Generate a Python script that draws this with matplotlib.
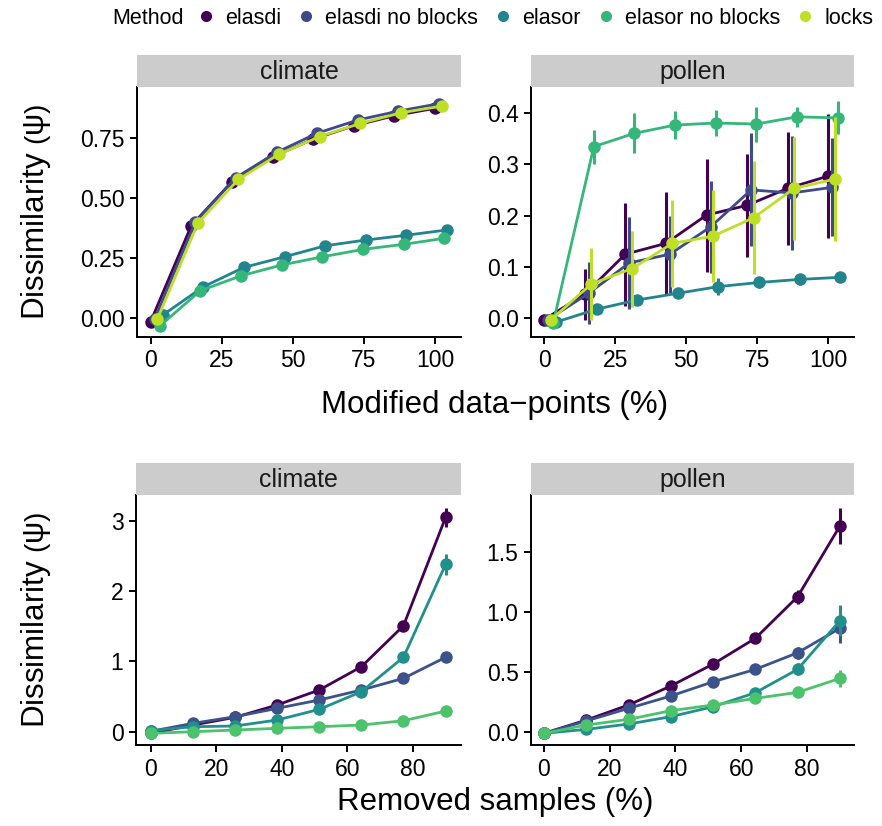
import numpy as np
import matplotlib
matplotlib.use("Agg")
import matplotlib.pyplot as plt
from matplotlib.lines import Line2D

plt.rcParams['font.family'] = ['Liberation Sans', 'DejaVu Sans']
plt.rcParams['mathtext.fontset'] = 'custom'
plt.rcParams['mathtext.rm'] = 'Liberation Sans'
plt.rcParams['mathtext.it'] = 'Liberation Sans:italic'

methods = ["elasdi", "elasdi no blocks", "elasor", "elasor no blocks", "locks"]
colors_top = {"elasdi": "#440154", "elasdi no blocks": "#3E4A89", "elasor": "#22858E",
              "elasor no blocks": "#35B779", "locks": "#BDDF26"}
colors_bot = {"elasdi": "#440154", "elasdi no blocks": "#3B528B", "elasor": "#21908C",
              "elasor no blocks": "#4CC26C"}
dodge = {"elasdi": 0.0, "elasdi no blocks": 1.4, "locks": 2.3, "elasor no blocks": 3.2, "elasor": 4.2}

# ---- top row: modified data-points ----
x_mod = [0, 14.29, 28.57, 42.86, 57.14, 71.43, 85.71, 100]

mod_climate = {
    "elasdi":           [-0.015, 0.385, 0.568, 0.672, 0.745, 0.801, 0.843, 0.874],
    "elasdi no blocks": [-0.005, 0.400, 0.585, 0.690, 0.770, 0.825, 0.862, 0.893],
    "elasor":           [0.012, 0.130, 0.211, 0.255, 0.301, 0.325, 0.345, 0.367],
    "elasor no blocks": [-0.033, 0.114, 0.176, 0.221, 0.255, 0.286, 0.307, 0.332],
    "locks":            [-0.006, 0.395, 0.578, 0.683, 0.756, 0.811, 0.855, 0.883],
}
mod_climate_err = {
    "elasdi":           [0.005, 0.01, 0.01, 0.01, 0.01, 0.01, 0.01, 0.01],
    "elasdi no blocks": [0.005, 0.015, 0.015, 0.012, 0.012, 0.012, 0.01, 0.01],
    "elasor":           [0.004, 0.005, 0.005, 0.005, 0.005, 0.005, 0.005, 0.005],
    "elasor no blocks": [0.004, 0.005, 0.005, 0.005, 0.005, 0.005, 0.005, 0.005],
    "locks":            [0.005, 0.01, 0.01, 0.01, 0.01, 0.01, 0.01, 0.01],
}
mod_pollen = {
    "elasdi":           [-0.002, 0.047, 0.125, 0.146, 0.201, 0.220, 0.253, 0.277],
    "elasdi no blocks": [-0.002, 0.049, 0.108, 0.125, 0.178, 0.250, 0.244, 0.255],
    "elasor":           [-0.007, 0.018, 0.036, 0.049, 0.062, 0.070, 0.076, 0.080],
    "elasor no blocks": [-0.009, 0.334, 0.360, 0.376, 0.380, 0.378, 0.392, 0.390],
    "locks":            [-0.003, 0.067, 0.097, 0.146, 0.160, 0.196, 0.253, 0.271],
}
mod_pollen_err = {
    "elasdi":           [0.005, 0.050, 0.100, 0.100, 0.110, 0.100, 0.110, 0.120],
    "elasdi no blocks": [0.005, 0.060, 0.090, 0.075, 0.090, 0.110, 0.110, 0.095],
    "elasor":           [0.004, 0.006, 0.008, 0.008, 0.016, 0.010, 0.010, 0.010],
    "elasor no blocks": [0.005, 0.033, 0.039, 0.028, 0.026, 0.034, 0.020, 0.032],
    "locks":            [0.005, 0.070, 0.074, 0.085, 0.090, 0.110, 0.100, 0.120],
}

# ---- bottom row: removed samples ----
x_rem = [0, 12.86, 25.71, 38.57, 51.43, 64.29, 77.14, 90]
rem_methods = ["elasdi", "elasdi no blocks", "elasor", "elasor no blocks"]
rem_climate = {
    "elasdi":           [-0.023, 0.095, 0.204, 0.380, 0.593, 0.924, 1.507, 3.048],
    "elasdi no blocks": [0.005, 0.119, 0.213, 0.332, 0.451, 0.593, 0.759, 1.058],
    "elasor":           [0.014, 0.071, 0.081, 0.166, 0.318, 0.569, 1.058, 2.380],
    "elasor no blocks": [-0.023, 0.000, 0.024, 0.048, 0.071, 0.095, 0.156, 0.294],
}
rem_climate_err = {
    "elasdi":           [0.01, 0.02, 0.02, 0.03, 0.03, 0.03, 0.04, 0.14],
    "elasdi no blocks": [0.01, 0.01, 0.02, 0.02, 0.02, 0.03, 0.03, 0.06],
    "elasor":           [0.01, 0.01, 0.01, 0.02, 0.02, 0.03, 0.05, 0.15],
    "elasor no blocks": [0.01, 0.01, 0.01, 0.01, 0.01, 0.01, 0.02, 0.03],
}
rem_pollen = {
    "elasdi":           [-0.008, 0.102, 0.227, 0.385, 0.567, 0.781, 1.126, 1.713],
    "elasdi no blocks": [-0.008, 0.095, 0.199, 0.302, 0.420, 0.523, 0.661, 0.864],
    "elasor":           [-0.008, 0.025, 0.069, 0.130, 0.213, 0.329, 0.523, 0.927],
    "elasor no blocks": [-0.008, 0.061, 0.108, 0.180, 0.227, 0.282, 0.332, 0.448],
}
rem_pollen_err = {
    "elasdi":           [0.01, 0.02, 0.02, 0.02, 0.02, 0.03, 0.06, 0.15],
    "elasdi no blocks": [0.01, 0.02, 0.02, 0.02, 0.02, 0.03, 0.05, 0.12],
    "elasor":           [0.01, 0.01, 0.02, 0.02, 0.02, 0.03, 0.05, 0.13],
    "elasor no blocks": [0.01, 0.01, 0.02, 0.02, 0.02, 0.03, 0.03, 0.07],
}

W, H = 882, 826
fig = plt.figure(figsize=(W / 100, H / 100), dpi=100)


def px_axes(x0, y0, x1, y1):
    return fig.add_axes([x0 / W, 1 - y1 / H, (x1 - x0) / W, (y1 - y0) / H])


def draw_panel(rect, title, mlist, xs, vals, errs, cols, use_dodge, xlim, ylim, xticks, yticks, yfmt):
    x0, y0, x1, y1 = rect
    ax = px_axes(x0, y0, x1, y1)
    strip = px_axes(x0, y0 - 32, x1, y0)
    strip.set_facecolor("#CCCCCC")
    strip.set_xticks([]); strip.set_yticks([])
    for s in strip.spines.values():
        s.set_visible(False)
    strip.text(0.5, 0.47, title, ha="center", va="center", fontsize=18, color="#1A1A1A",
               transform=strip.transAxes)
    for i, m in enumerate(mlist):
        off = dodge[m] if use_dodge else 0.0
        x = np.array(xs) + off
        y = np.array(vals[m])
        e = np.array(errs[m])
        c = cols[m]
        z = 2 + i
        ax.plot(x, y, color=c, lw=2.0, zorder=z, solid_capstyle="butt")
        ax.vlines(x, y - e, y + e, color=c, lw=2.2, zorder=z)
        ax.plot(x, y, "o", color=c, ms=9, mec="none", zorder=z + 0.5)
    ax.set_xlim(*xlim)
    ax.set_ylim(*ylim)
    ax.set_xticks(xticks)
    ax.set_yticks(yticks)
    ax.set_yticklabels([yfmt.format(v) for v in yticks])
    for s in ["top", "right"]:
        ax.spines[s].set_visible(False)
    for s in ["left", "bottom"]:
        ax.spines[s].set_linewidth(1.4)
    ax.tick_params(axis="both", direction="out", length=5, width=1.4, labelsize=16.5,
                   colors="black", pad=4)
    return ax


draw_panel((137, 87, 461, 337), "climate", methods, x_mod, mod_climate, mod_climate_err,
           colors_top, True, (-4.8, 109.1), (-0.079, 0.9625),
           [0, 25, 50, 75, 100], [0.0, 0.25, 0.5, 0.75], "{:.2f}")
draw_panel((531, 87, 854, 337), "pollen", methods, x_mod, mod_pollen, mod_pollen_err,
           colors_top, True, (-4.6, 109.0), (-0.036, 0.450),
           [0, 25, 50, 75, 100], [0.0, 0.1, 0.2, 0.3, 0.4], "{:.1f}")
draw_panel((136, 495, 461, 745), "climate", rem_methods, x_rem, rem_climate, rem_climate_err,
           colors_bot, False, (-4.5, 94.7), (-0.189, 3.366),
           [0, 20, 40, 60, 80], [0, 1, 2, 3], "{:d}")
draw_panel((531, 495, 854, 745), "pollen", rem_methods, x_rem, rem_pollen, rem_pollen_err,
           colors_bot, False, (-3.95, 94.3), (-0.105, 1.971),
           [0, 20, 40, 60, 80], [0.0, 0.5, 1.0, 1.5], "{:.1f}")

# axis titles
fig.text(495 / W, 1 - 405 / H, "Modified data\u2212points (%)", ha="center", va="center", fontsize=22.5)
fig.text(495 / W, 1 - 802 / H, "Removed samples (%)", ha="center", va="center", fontsize=22.5)
ylab = r"Dissimilarity $\left(\mathrm{\psi}\right)$"
fig.text(36 / W, 1 - 212 / H, ylab, ha="center", va="center", rotation=90, fontsize=22.5)
fig.text(36 / W, 1 - 620 / H, ylab, ha="center", va="center", rotation=90, fontsize=22.5)

# legend
fig.text(112 / W, 1 - 18 / H, "Method", ha="left", va="center", fontsize=15.5)
handles = [Line2D([], [], marker="o", ls="none", color=colors_top[m], ms=8, mec="none") for m in methods]
fig.legend(handles, methods, loc="center left", bbox_to_anchor=(197 / W, 1 - 18 / H),
           ncol=5, frameon=False, fontsize=15.5, handlelength=0.8, handletextpad=0.5,
           columnspacing=0.75, borderaxespad=0, borderpad=0)

fig.savefig("out.png", dpi=100)
